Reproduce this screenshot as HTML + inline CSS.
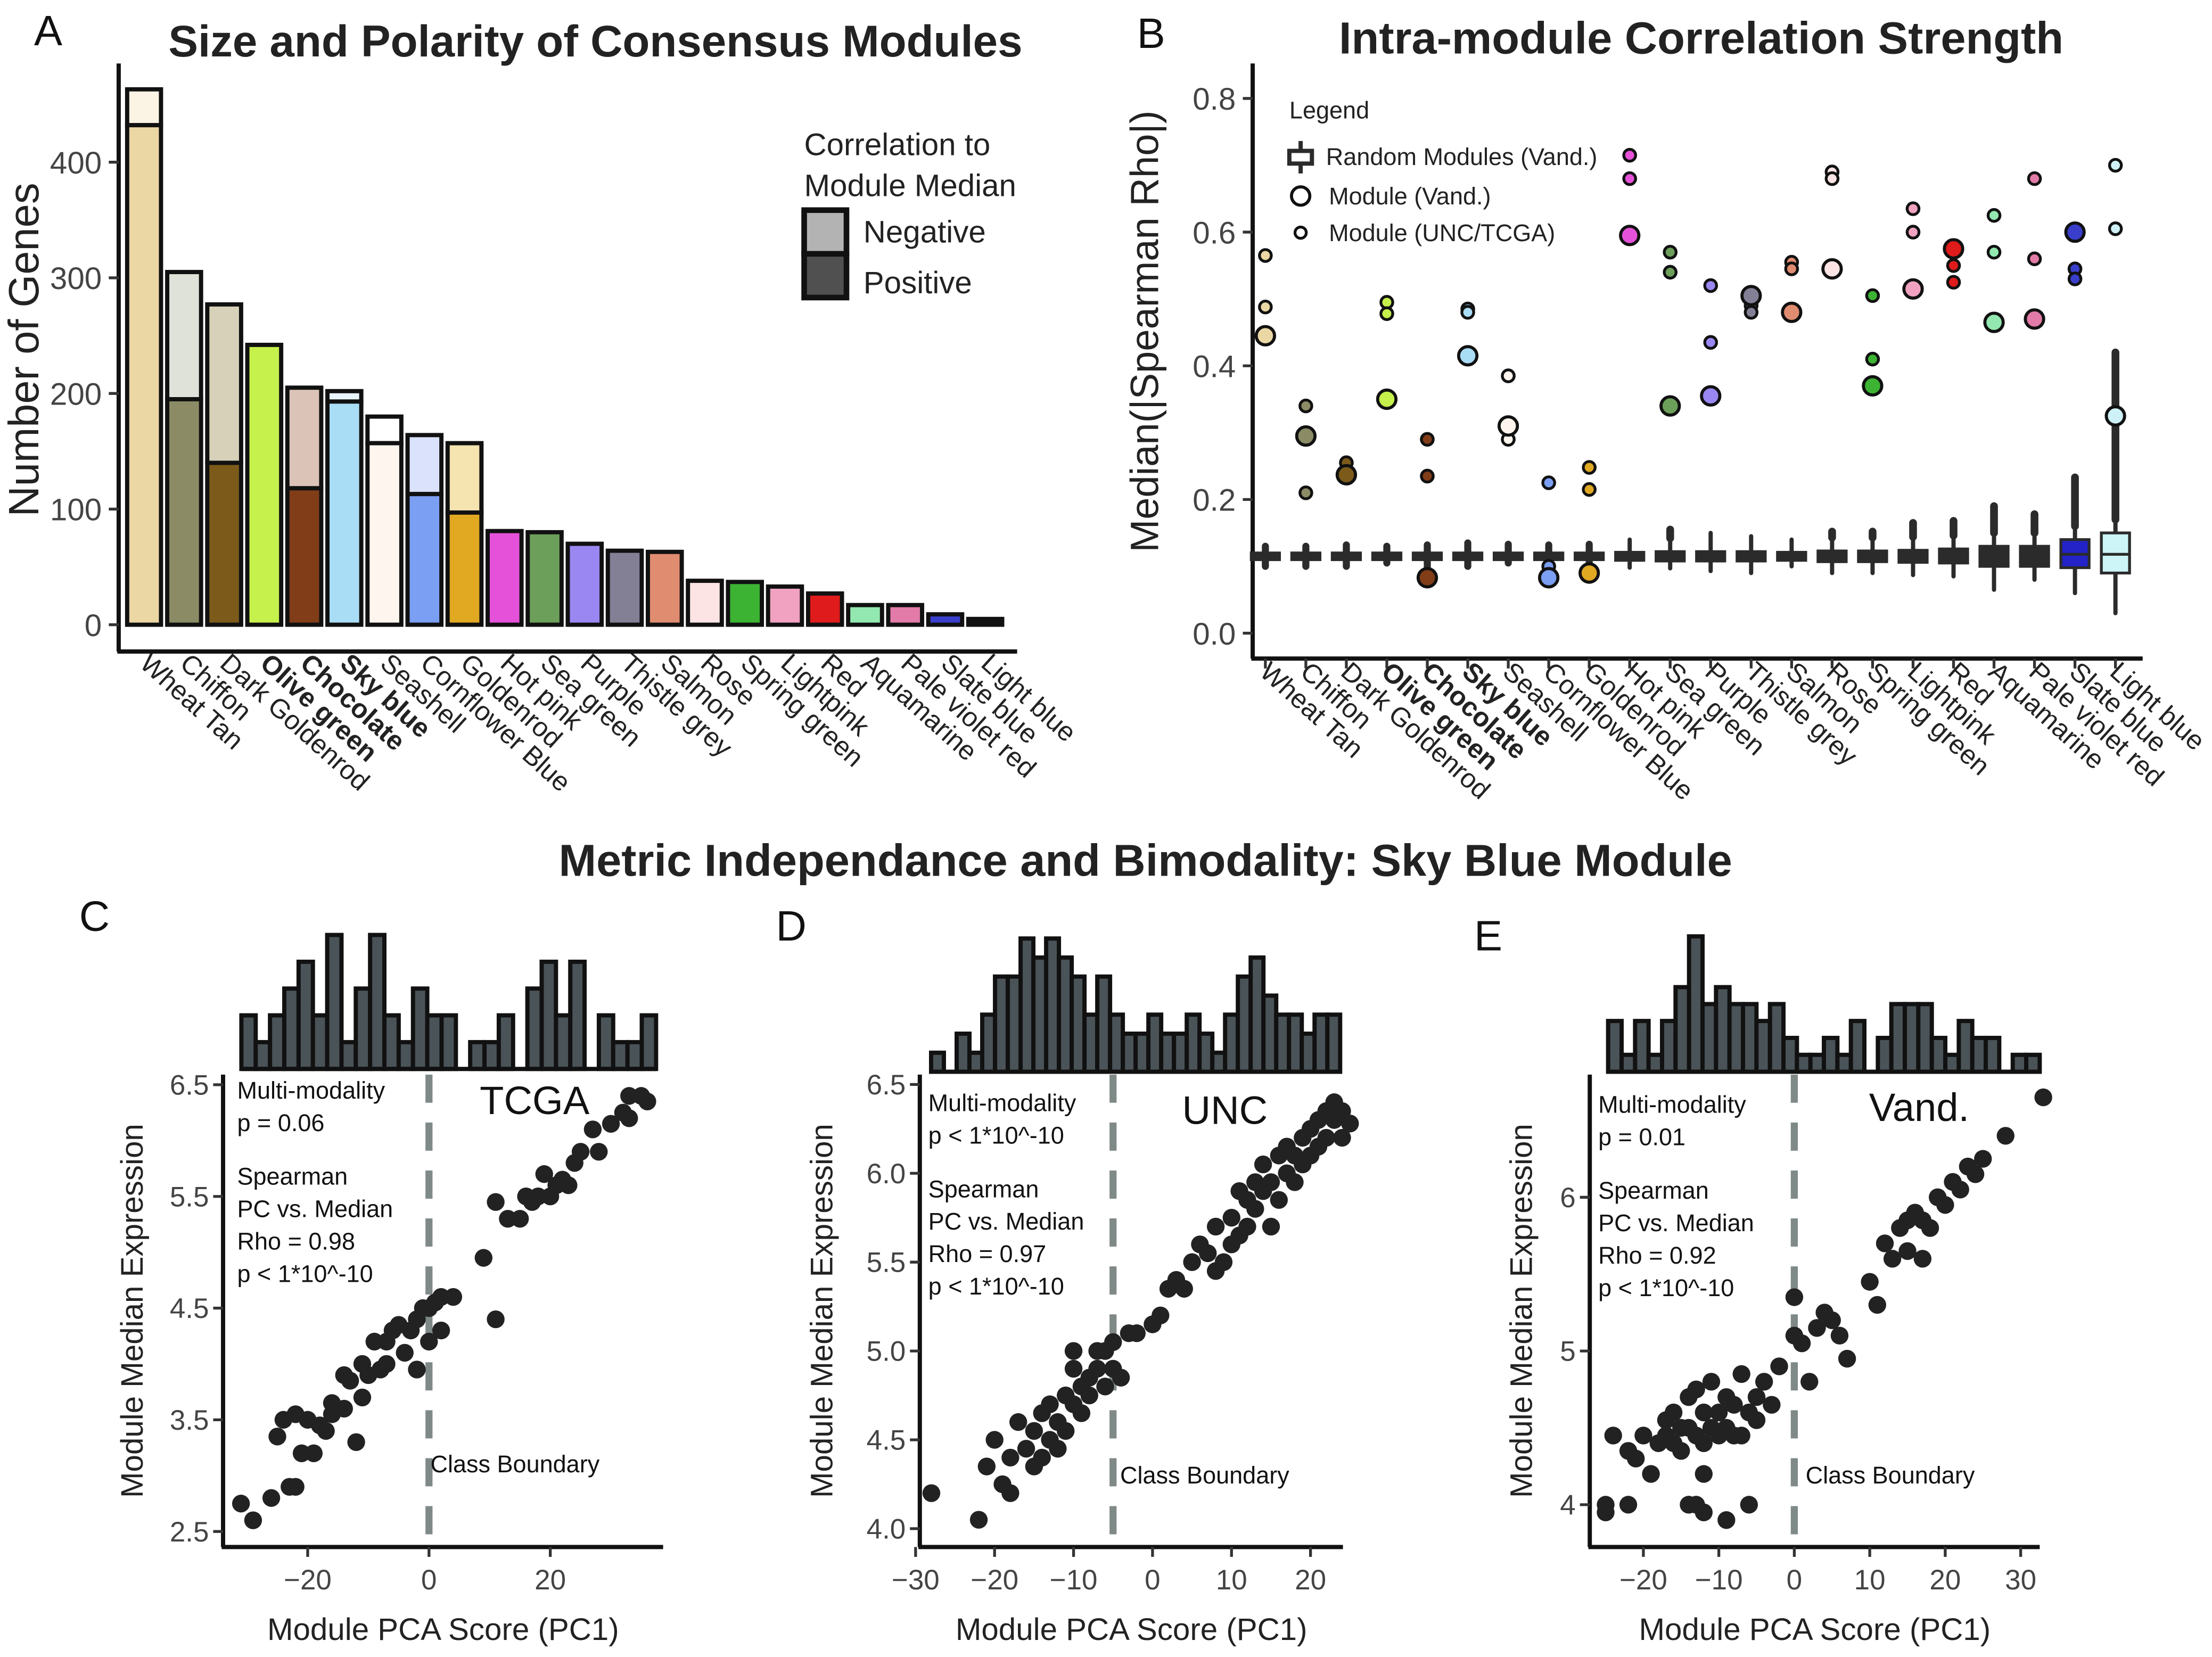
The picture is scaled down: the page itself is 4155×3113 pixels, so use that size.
<!DOCTYPE html>
<html><head><meta charset="utf-8"><style>
html,body{margin:0;padding:0;background:#fff}
svg{display:block;font-family:"Liberation Sans",sans-serif}
</style></head><body>
<svg id="fig" width="4155" height="3113" viewBox="0 0 1568 1175" xmlns="http://www.w3.org/2000/svg">
<rect width="1568" height="1175" fill="#fff"/>
</svg>
<script>
// ---------- Panel A data ----------
const aCats=["Wheat Tan","Chiffon","Dark Goldenrod","Olive green","Chocolate","Sky blue","Seashell","Cornflower Blue","Goldenrod","Hot pink","Sea green","Purple","Thistle grey","Salmon","Rose","Spring green","Lightpink","Red","Aquamarine","Pale violet red","Slate blue","Light blue"];
const aTotal=[463,305,277,242,205,202,180,164,157,81,80,70,64,63,38,37,33,27,17,17,9,5];
const aPos=[432,195,140,242,118,193,157,113,97,81,80,70,64,63,38,37,33,27,17,17,9,3];
const aPosCol=["#ead7a4","#8b8c66","#7b5a1a","#c6f04c","#813d18","#a9dcf5","#fdf5ee","#7b9ff2","#e1a822","#e552d9","#6c9f5a","#9b87f2","#838096","#e08c70","#fde4e4","#3cb332","#f0a2c0","#e01b1b","#92e8b0","#e27ba7","#3a3fcb","#cdf1f6"];
const aNegCol=["#fbf3e3","#dfe2d8","#d6d1b8","#c6f04c","#dbc3b7","#e8f5fb","#ffffff","#dae3fb","#f5e3b0","#e552d9","#6c9f5a","#9b87f2","#838096","#e08c70","#fde4e4","#3cb332","#f0a2c0","#e01b1b","#92e8b0","#e27ba7","#3a3fcb","#ffffff"];
const aTicks=[0,100,200,300,400];
const boldCats=["Olive green","Chocolate","Sky blue"];
// ---------- Panel B data ----------
const bLarge=[0.445,0.295,0.237,0.35,0.083,0.415,0.31,0.083,0.09,0.595,0.34,0.355,0.505,0.48,0.545,0.37,0.515,0.575,0.465,0.47,0.6,0.325];
const bSmall1=[0.565,0.34,0.255,0.495,0.29,0.485,0.385,0.225,0.248,0.715,0.57,0.52,0.49,0.555,0.69,0.505,0.635,0.55,0.625,0.68,0.545,0.7];
const bSmall2=[0.488,0.21,0.24,0.478,0.235,0.48,0.29,0.1,0.215,0.68,0.54,0.435,0.48,0.545,0.68,0.41,0.6,0.525,0.57,0.56,0.53,0.605];
const bMed=[0.115,0.115,0.115,0.115,0.115,0.115,0.115,0.115,0.115,0.115,0.115,0.115,0.115,0.115,0.115,0.115,0.115,0.115,0.115,0.115,0.118,0.118];
const bQ1=[0.11,0.11,0.11,0.11,0.11,0.11,0.11,0.11,0.11,0.109,0.108,0.108,0.108,0.109,0.107,0.107,0.106,0.105,0.1,0.1,0.098,0.09];
const bQ3=[0.12,0.12,0.12,0.12,0.12,0.12,0.12,0.12,0.12,0.121,0.122,0.122,0.122,0.121,0.123,0.123,0.124,0.126,0.13,0.13,0.14,0.15];
const bMin=[0.1,0.1,0.1,0.105,0.09,0.1,0.105,0.095,0.1,0.098,0.097,0.093,0.09,0.1,0.09,0.09,0.087,0.085,0.065,0.08,0.06,0.03];
const bMax=[0.13,0.13,0.132,0.13,0.132,0.135,0.133,0.132,0.133,0.14,0.155,0.15,0.145,0.14,0.152,0.152,0.165,0.168,0.19,0.178,0.233,0.42];
const bTicks=[0,0.2,0.4,0.6,0.8];
const bBoxCol=["#2b2b2b","#2b2b2b","#2b2b2b","#2b2b2b","#2b2b2b","#2b2b2b","#2b2b2b","#2b2b2b","#2b2b2b","#2b2b2b","#2b2b2b","#2b2b2b","#2b2b2b","#2b2b2b","#2b2b2b","#2b2b2b","#2b2b2b","#2b2b2b","#2b2b2b","#2b2b2b","#2323c8","#cdf4f6"];
// ---------- Scatter data ----------
const cX=[-31,-29,-26,-25,-23,-22,-24,-22,-21,-20,-19,-18,-17,-16,-16,-14,-14,-13,-12,-11,-11,-10,-9,-8,-7,-7,-6,-5,-4,-3,-2,-2,-1,0,0,1,2,2,4,9,11,11,13,15,16,17,18,19,20,21,22,23,24,25,28,27,30,32,33,33,35,36];
const cY=[2.75,2.6,2.8,3.35,2.9,2.9,3.5,3.55,3.2,3.5,3.2,3.45,3.4,3.55,3.65,3.6,3.9,3.85,3.3,3.7,4.0,3.9,4.2,3.95,4.2,4.0,4.3,4.35,4.1,4.3,3.95,4.4,4.5,4.2,4.5,4.55,4.6,4.3,4.6,4.95,4.4,5.45,5.3,5.3,5.5,5.45,5.5,5.7,5.5,5.6,5.65,5.6,5.8,5.9,5.9,6.1,6.15,6.25,6.4,6.2,6.4,6.35];
const cHist=[2,1,2,3,4,2,5,1,3,5,2,1,3,2,2,0,1,1,2,0,3,4,2,4,0,2,1,1,2];
const cYTicks=[2.5,3.5,4.5,5.5,6.5];
const cXTicks=[-20,0,20];
const dX=[-28,-22,-21,-20,-19,-18,-18,-17,-16,-15,-15,-14,-14,-13,-13,-12,-12,-11,-11,-10,-10,-10,-9,-9,-8,-8,-7,-7,-6,-6,-5,-5,-4,-3,-2,0,1,2,3,4,5,6,7,8,8,9,10,10,11,11,12,12,13,13,14,14,15,15,16,16,17,17,18,18,19,19,20,20,21,21,22,22,23,23,24,25,24];
const dY=[4.2,4.05,4.35,4.5,4.25,4.4,4.2,4.6,4.45,4.55,4.35,4.4,4.65,4.5,4.7,4.6,4.45,4.75,4.55,4.7,4.9,5.0,4.8,4.65,4.85,4.75,5.0,4.9,4.8,5.0,4.9,5.05,4.85,5.1,5.1,5.15,5.2,5.35,5.4,5.35,5.5,5.6,5.55,5.7,5.45,5.5,5.6,5.75,5.9,5.65,5.85,5.7,5.95,5.8,5.9,6.05,5.95,5.7,6.1,5.85,6.0,6.15,6.1,5.95,6.2,6.05,6.25,6.1,6.3,6.15,6.35,6.2,6.3,6.4,6.35,6.28,6.2];
const dHist=[1,0,2,1,3,5,5,7,6,7,6,5,3,5,3,2,2,3,2,2,3,2,1,3,5,6,4,3,3,2,3,3];
const dYTicks=[4.0,4.5,5.0,5.5,6.0,6.5];
const dXTicks=[-30,-20,-10,0,10,20];
const eX=[-25,-25,-22,-24,-22,-21,-20,-19,-18,-17,-17,-16,-16,-15,-15,-14,-14,-13,-13,-12,-12,-12,-11,-11,-10,-10,-9,-9,-8,-8,-7,-7,-6,-5,-5,-4,-3,-2,-6,-9,-13,-12,-14,0,0,1,2,3,4,5,6,7,10,11,12,13,14,15,15,16,17,17,18,19,20,21,22,23,24,25,28,33];
const eY=[3.95,4.0,4.0,4.45,4.35,4.3,4.45,4.2,4.4,4.45,4.55,4.4,4.6,4.5,4.35,4.7,4.5,4.75,4.45,4.6,4.4,4.2,4.5,4.8,4.6,4.45,4.5,4.7,4.45,4.65,4.85,4.45,4.6,4.55,4.7,4.8,4.65,4.9,4.0,3.9,4.0,3.95,4.0,5.35,5.1,5.05,4.8,5.15,5.25,5.2,5.1,4.95,5.45,5.3,5.7,5.6,5.8,5.85,5.65,5.9,5.6,5.85,5.8,6.0,5.95,6.1,6.05,6.2,6.15,6.25,6.4,6.65];
const eHist=[3,1,3,1,3,5,8,4,5,4,4,3,4,2,1,1,2,1,3,0,2,4,4,4,2,1,3,2,2,0,1,1];
const eYTicks=[4,5,6];
const eXTicks=[-20,-10,0,10,20,30];

const NS="http://www.w3.org/2000/svg";
const svg=document.getElementById('fig');
function mk(tag,attrs,parent){const e=document.createElementNS(NS,tag);for(const k in attrs)e.setAttribute(k,attrs[k]);(parent||svg).appendChild(e);return e;}
function txt(s,x,y,size,opt,parent){const o=Object.assign({x:x,y:y,'font-size':size,fill:'#222'},opt||{});const t=mk('text',o,parent);t.textContent=s;return t;}

let t;
t=txt("Size and Polarity of Consensus Modules",422,40,31.5,{'font-weight':'bold','text-anchor':'middle'});

t=txt("Intra-module Correlation Strength",1206,38,32,{'font-weight':'bold','text-anchor':'middle'});

t=txt("Metric Independance and Bimodality: Sky Blue Module",812,621,32,{'font-weight':'bold','text-anchor':'middle'});

[["A",24,32],["B",806,34],["C",56,660],["D",550,667],["E",1045,674]].forEach(p=>{const l=txt(p[0],p[1],p[2],30,{fill:'#111'});

});

// ---------- Panel A ----------
const gA=mk('g',{});

const aY=v=>443-v*0.82, aX=i=>90+i*28.4;
aCats.forEach((c,i)=>{
  const x=aX(i),w=24;
  const neg=mk('rect',{x:x,y:aY(aTotal[i]),width:w,height:aY(aPos[i])-aY(aTotal[i]),fill:aNegCol[i],stroke:'#111','stroke-width':3},gA);
  
  
  const pos=mk('rect',{x:x,y:aY(aPos[i]),width:w,height:aY(0)-aY(aPos[i]),fill:aPosCol[i],stroke:'#111','stroke-width':3},gA);
  
  
  const lb=txt(c,x+w/2-4,472,19,{transform:`rotate(42 ${x+w/2-4} 472)`,'font-weight':boldCats.includes(c)?'bold':'normal'},gA);
  
  
});
mk('line',{x1:84,y1:45,x2:84,y2:462,stroke:'#111','stroke-width':3},gA);
mk('line',{x1:83,y1:462,x2:721,y2:462,stroke:'#111','stroke-width':3},gA);
aTicks.forEach(v=>{mk('line',{x1:77,x2:84,y1:aY(v),y2:aY(v),stroke:'#333','stroke-width':2},gA);
  const tl=txt(String(v),72,aY(v)+8,22,{'text-anchor':'end',fill:'#444'},gA);
  
  });
t=txt("Number of Genes",0,0,30,{transform:'translate(27 248) rotate(-90)','text-anchor':'middle'},gA);

const lgA=mk('g',{});

txt("Correlation to",570,110,22,{},lgA);txt("Module Median",570,139,22,{},lgA);
mk('rect',{x:570,y:149,width:30,height:31,fill:'#b3b3b3',stroke:'#111','stroke-width':4},lgA);
mk('rect',{x:570,y:180,width:30,height:31,fill:'#505050',stroke:'#111','stroke-width':4},lgA);
txt("Negative",612,172,22,{},lgA);txt("Positive",612,208,22,{},lgA);

// ---------- Panel B ----------
const gB=mk('g',{});

const bY=v=>449-v*474, bX=i=>897+i*28.7;
mk('line',{x1:888,y1:45,x2:888,y2:467,stroke:'#111','stroke-width':3},gB);
mk('line',{x1:887,y1:467,x2:1519,y2:467,stroke:'#111','stroke-width':3},gB);
bTicks.forEach(v=>{mk('line',{x1:881,x2:888,y1:bY(v),y2:bY(v),stroke:'#333','stroke-width':2},gB);
  const tl=txt(v.toFixed(1),876,bY(v)+8,22,{'text-anchor':'end',fill:'#444'},gB);
  
  });
t=txt("Median(|Spearman Rho|)",0,0,28,{transform:'translate(821 235) rotate(-90)','text-anchor':'middle'},gB);

aCats.forEach((c,i)=>{
  const x=bX(i);
  mk('line',{x1:x,x2:x,y1:467,y2:474,stroke:'#333','stroke-width':2},gB);
  const lb=txt(c,x-5,478,19,{transform:`rotate(42 ${x-5} 478)`,'font-weight':boldCats.includes(c)?'bold':'normal'},gB);
  
  
  const wl=mk('line',{x1:x,x2:x,y1:bY(bMin[i]),y2:bY(bMax[i]),stroke:'#2b2b2b','stroke-width':i>=9?3:5,'stroke-linecap':'round'},gB);
  
  
  if(bMax[i]>0.15){const ol=mk('line',{x1:x,x2:x,y1:bY(bQ3[i]+0.02),y2:bY(bMax[i]),stroke:'#2b2b2b','stroke-width':5.5,'stroke-linecap':'round'},gB);
    
    }
  const bx=mk('rect',{x:x-10,y:bY(bQ3[i]),width:20,height:bY(bQ1[i])-bY(bQ3[i]),fill:bBoxCol[i],stroke:'#2b2b2b','stroke-width':2},gB);
  
  
  mk('line',{x1:x-10,x2:x+10,y1:bY(bMed[i]),y2:bY(bMed[i]),stroke:'#2b2b2b','stroke-width':2},gB);
  [bSmall1[i],bSmall2[i]].forEach(v=>{const p=mk('circle',{cx:x,cy:bY(v),r:4.2,fill:aPosCol[i],stroke:'#111','stroke-width':2},gB);
    
    });
  const L=mk('circle',{cx:x,cy:bY(bLarge[i]),r:6.5,fill:aPosCol[i],stroke:'#111','stroke-width':2.2},gB);
  
  
});
const lgB=mk('g',{});

txt("Legend",914,84,17,{},lgB);
mk('line',{x1:922,x2:922,y1:100,y2:123,stroke:'#2b2b2b','stroke-width':3},lgB);
mk('rect',{x:914,y:107,width:16,height:9,fill:'#fff',stroke:'#2b2b2b','stroke-width':3},lgB);
txt("Random Modules (Vand.)",940,117,17,{},lgB);
mk('circle',{cx:922,cy:139,r:6.5,fill:'#fff',stroke:'#111','stroke-width':2.2},lgB);
txt("Module (Vand.)",942,145,17,{},lgB);
mk('circle',{cx:922,cy:165,r:4,fill:'#fff',stroke:'#111','stroke-width':2},lgB);
txt("Module (UNC/TCGA)",942,171,17,{},lgB);

// ---------- Scatter panels ----------
function scatter(o){
  const g=mk('g',{});
  
  
  const X=v=>o.x0px+(v-o.x0)*o.xs, Y=v=>o.y0px-(v-o.y0)*o.ys;
  const n=o.hist.length,bw=(o.hx1-o.hx0)/n;
  o.hist.forEach((h,i)=>{const r=mk('rect',{x:o.hx0+i*bw,y:o.hb-h*o.hu,width:bw,height:Math.max(h*o.hu,0.01),fill:'#4a5357',stroke:'#111','stroke-width':h>0?3:0},g);
    
    });
  mk('line',{x1:o.hx0,x2:o.hx1,y1:o.hb,y2:o.hb,stroke:'#111','stroke-width':3},g);
  mk('line',{x1:o.ax,y1:o.ytop,x2:o.ax,y2:o.ay,stroke:'#111','stroke-width':3},g);
  mk('line',{x1:o.ax-1,y1:o.ay,x2:o.axr,y2:o.ay,stroke:'#111','stroke-width':3},g);
  o.yt.forEach(v=>{mk('line',{x1:o.ax-7,x2:o.ax,y1:Y(v),y2:Y(v),stroke:'#333','stroke-width':2},g);
    const tl=txt(o.yf(v),o.ax-10,Y(v)+7,20,{'text-anchor':'end',fill:'#444'},g);
    
    });
  o.xt.forEach(v=>{mk('line',{x1:X(v),x2:X(v),y1:o.ay,y2:o.ay+7,stroke:'#333','stroke-width':2},g);
    const tl=txt(v<0?'\u2212'+(-v):String(v),X(v),o.ay+30,20,{'text-anchor':'middle',fill:'#444'},g);
    
    });
  const bl=mk('line',{x1:X(o.bnd),x2:X(o.bnd),y1:o.ytop,y2:o.ay,stroke:'#7f8a88','stroke-width':5,'stroke-dasharray':'20 14'},g);
  
  
  o.xs_.forEach((v,i)=>{const c=mk('circle',{cx:X(v),cy:Y(o.ys_[i]),r:6.3,fill:'#222'},g);
    
    });
  const tx=o.tx,ty=o.ty;
  const lines=[["Multi-modality",0],[o.p,23],["Spearman",61],["PC vs. Median",84],["Rho = "+o.rho,107],["p <  1*10^-10",130]];
  lines.forEach(l=>{txt(l[0],tx,ty+l[1],17,{fill:'#111'},g);});
  const ds=txt(o.ds,o.dsx,o.dsy,28,{fill:'#111'},g);
  
  
  txt("Class Boundary",o.cbx,o.cby,17,{fill:'#111'},g);
  const yt=txt("Module Median Expression",0,0,22,{transform:`translate(${o.ytx} ${(o.ytop+o.ay)/2}) rotate(-90)`,'text-anchor':'middle'},g);
  
  
  const xt=txt("Module PCA Score (PC1)",(o.ax+o.axr)/2,o.ay+66,22,{'text-anchor':'middle'},g);
  
  
}
scatter({name:'scatter-c-tcga',x0:0,x0px:304,xs:4.3,y0:2.5,y0px:1086,ys:79.2,hist:cHist,hx0:171,hx1:465,hb:758,hu:19,
  ax:158,ay:1097,ytop:762,axr:470,yt:cYTicks,yf:v=>v.toFixed(1),xt:cXTicks,bnd:0,xs_:cX,ys_:cY,tx:168,ty:779,p:"p = 0.06",rho:"0.98",
  ds:"TCGA",dsx:340,dsy:790,cbx:305,cby:1044,ytx:101});
scatter({name:'scatter-d-unc',x0:0,x0px:817,xs:5.6,y0:4.0,y0px:1084,ys:126,hist:dHist,hx0:660,hx1:950,hb:760,hu:13.5,
  ax:652,ay:1097,ytop:762,axr:952,yt:dYTicks,yf:v=>v.toFixed(1),xt:dXTicks,bnd:-5,xs_:dX,ys_:dY,tx:658,ty:788,p:"p <  1*10^-10",rho:"0.97",
  ds:"UNC",dsx:838,dsy:797,cbx:794,cby:1052,ytx:590});
scatter({name:'scatter-e-vand',x0:0,x0px:1272,xs:5.35,y0:4,y0px:1067,ys:109,hist:eHist,hx0:1140,hx1:1446,hb:760,hu:12,
  ax:1127,ay:1097,ytop:762,axr:1446,yt:eYTicks,yf:v=>String(v),xt:eXTicks,bnd:0,xs_:eX,ys_:eY,tx:1133,ty:789,p:"p = 0.01",rho:"0.92",
  ds:"Vand.",dsx:1325,dsy:795,cbx:1280,cby:1052,ytx:1086});
</script>
</body></html>
